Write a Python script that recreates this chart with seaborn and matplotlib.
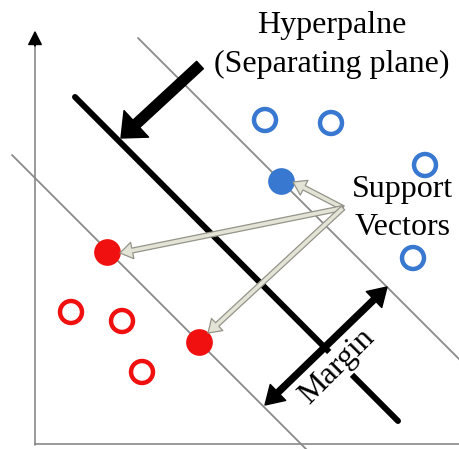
import numpy as np
import pandas as pd
import matplotlib
matplotlib.use("Agg")
import matplotlib.pyplot as plt
import seaborn as sns

# points (data units, origin at the axes corner)
blue_open_x = [230, 296, 390, 378]
blue_open_y = [324, 321, 279, 186]
blue_sv_x = [246]
blue_sv_y = [263]
red_open_x = [36, 87, 107]
red_open_y = [132, 123, 72]
red_sv_x = [72, 164]
red_sv_y = [192, 102]

# lines: hyperplane and both margins (end points)
hyper_x = [40, 363]
hyper_y = [347, 23]
upper_x = [103, 445]
upper_y = [406, 64]
lower_x = [-23, 275]
lower_y = [289, -9]

# arrows
sv_label_xy = (308, 236)
sv_targets = [(258, 262), (85, 191), (173, 111)]
hyper_arrow = [(165, 379), (86, 306)]
margin_arrow = [(230, 39), (352, 157)]

BLUE = "#3878d0"
RED = "#f01010"

sns.set_style("white")
plt.rcParams["font.family"] = ["Liberation Serif", "DejaVu Serif"]

fig = plt.figure(figsize=(4.6, 4.49), dpi=100)
ax = fig.add_axes([0, 0, 1, 1])
ax.set_xlim(-35, 425)
ax.set_ylim(-5, 444)
ax.axis("off")

# axes with arrow heads
ax.plot([0, 0], [-1, 405], color="#7f7f7f", lw=1.1)
ax.plot([0, 425], [0, 0], color="#7f7f7f", lw=1.1)
ax.annotate("", xy=(0, 412), xytext=(0, 398),
            arrowprops=dict(arrowstyle="simple,head_length=0.9,head_width=0.9,tail_width=0.01",
                            mutation_scale=10, color="black", shrinkA=0, shrinkB=0))
ax.annotate("", xy=(428, 0), xytext=(414, 0),
            arrowprops=dict(arrowstyle="simple,head_length=0.9,head_width=0.9,tail_width=0.01",
                            mutation_scale=10, color="black", shrinkA=0, shrinkB=0))

# margins and separating line
sns.lineplot(x=upper_x, y=upper_y, color="#8a8a8a", lw=1.3, ax=ax, zorder=2)
sns.lineplot(x=lower_x, y=lower_y, color="#8a8a8a", lw=1.3, ax=ax, zorder=2)
sns.lineplot(x=hyper_x, y=hyper_y, color="black", lw=4.3, ax=ax, zorder=3,
             solid_capstyle="round")

# data points
sns.scatterplot(x=blue_open_x, y=blue_open_y, s=250, facecolor="none",
                edgecolor=BLUE, linewidth=3.2, ax=ax, zorder=5)
sns.scatterplot(x=red_open_x, y=red_open_y, s=250, facecolor="none",
                edgecolor=RED, linewidth=3.2, ax=ax, zorder=5)
sns.scatterplot(x=blue_sv_x, y=blue_sv_y, s=370, color=BLUE, linewidth=0, ax=ax, zorder=5)
sns.scatterplot(x=red_sv_x, y=red_sv_y, s=370, color=RED, linewidth=0, ax=ax, zorder=5)

# support vector arrows
for tx, ty in sv_targets:
    ax.annotate("", xy=(tx, ty), xytext=sv_label_xy,
                arrowprops=dict(arrowstyle="simple,head_length=0.9,head_width=1.2,tail_width=0.35",
                                mutation_scale=10, fc="#e4e4d6", ec="#94948a", lw=0.9,
                                shrinkA=0, shrinkB=0), zorder=6)

# arrow to the hyperplane
ax.annotate("", xy=hyper_arrow[1], xytext=hyper_arrow[0],
            arrowprops=dict(arrowstyle="simple,head_length=1.5,head_width=2.6,tail_width=0.72",
                            mutation_scale=10, color="black", shrinkA=0, shrinkB=0), zorder=6)

# margin double arrow
mid = ((margin_arrow[0][0] + margin_arrow[1][0]) / 2, (margin_arrow[0][1] + margin_arrow[1][1]) / 2)
for end in margin_arrow:
    ax.annotate("", xy=end, xytext=mid,
                arrowprops=dict(arrowstyle="simple,head_length=1.3,head_width=1.6,tail_width=0.43",
                                mutation_scale=10, color="black", shrinkA=0, shrinkB=0), zorder=6)

# labels
txt = dict(fontsize=23, color="black")
ax.text(297, 411, "Hyperpalne", ha="center", va="baseline", **txt)
ax.text(297, 372, "(Separating plane)", ha="center", va="baseline", **txt)
ax.text(368, 247, "Support", ha="center", va="baseline", **txt)
ax.text(368, 209, "Vectors", ha="center", va="baseline", **txt)
ax.text(302, 77, "Margin", ha="center", va="center", rotation=45,
        rotation_mode="anchor", zorder=4,
        bbox=dict(boxstyle="square,pad=0.05", fc="white", ec="none"), **txt)

fig.savefig("out.png", dpi=100)
